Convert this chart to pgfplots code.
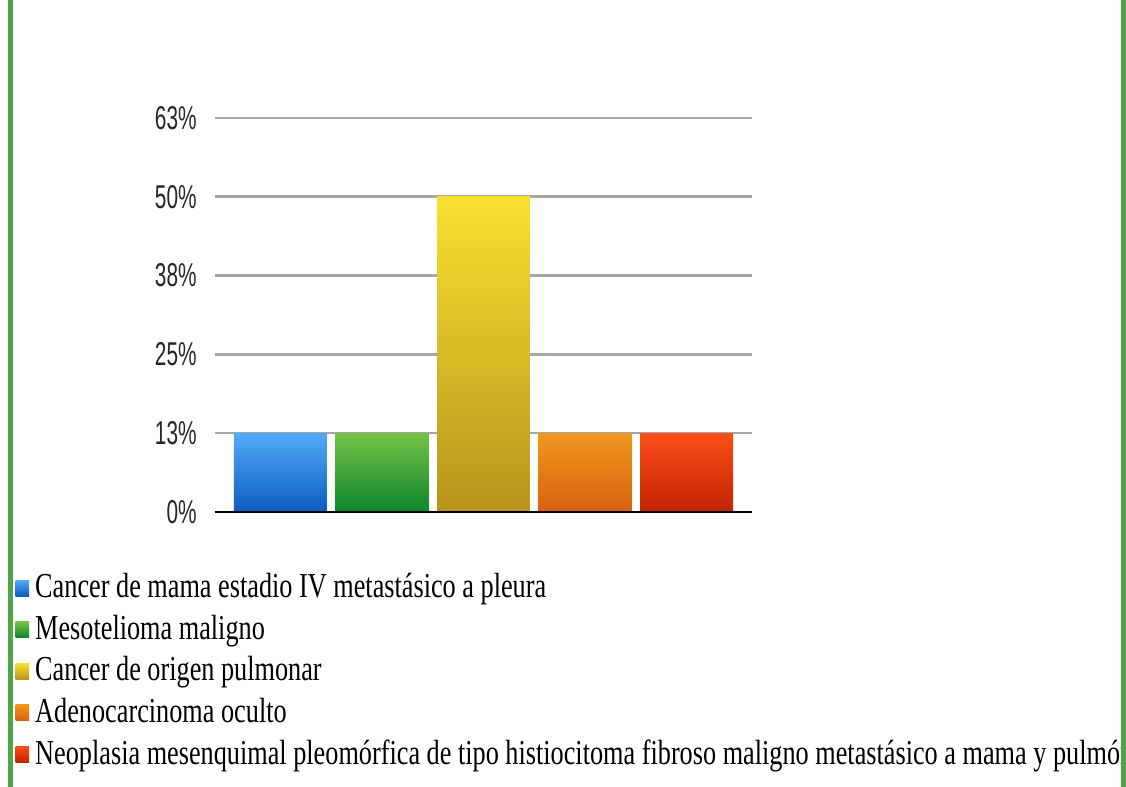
\documentclass[border=0pt]{standalone}
\usepackage{pgfplots}
\pgfplotsset{compat=1.18}
\usepackage{fontspec}
\setmainfont{Liberation Serif}
\newfontfamily\legfont{Liberation Serif}[FakeStretch=0.75]
\newfontfamily\tickfont{Liberation Sans}[FakeStretch=0.63]

\definecolor{framegreen}{HTML}{4EA647}
\definecolor{gridgray}{HTML}{A6A6A6}

\begin{document}
\begin{tikzpicture}
\useasboundingbox (0,0) rectangle (563pt,393.5pt);
\begin{scope}
\clip (0,0) rectangle (560.5pt,393.5pt);
\begin{axis}[
  at={(107.5pt,137.5pt)}, anchor=south west,
  scale only axis, width=268.5pt, height=197pt,
  xmin=-0.645, xmax=4.645,
  ymin=0, ymax=62.5,
  axis line style={draw=none},
  xtick=\empty,
  ytick={0,12.5,25,37.5,50,62.5},
  yticklabels={0\%,13\%,25\%,38\%,50\%,63\%},
  major tick length=0pt,
  yticklabel style={font=\tickfont\fontsize{16.5}{16.5}\selectfont, text=black!85,
    inner sep=0pt, anchor=east, xshift=-9pt},
  ymajorgrids,
  grid style={gridgray, line width=1.3pt},
  clip=false,
  legend cell align=left,
  legend style={draw=none, fill=none, inner sep=0pt,
    at={(axis description cs:-0.372,-0.158)}, anchor=north west,
    font=\legfont\fontsize{17.5}{17.5}\selectfont,
    nodes={inner sep=0pt, text height=11.5pt, text depth=3.5pt},
    row sep=5.8pt, column sep=3pt},
  legend image code/.code={\path[#1] (0pt,-3.2pt) rectangle (6.8pt,4.8pt);},
]
\addplot[ybar, bar shift=0pt, bar width=0.916, draw=none,
  top color={rgb,255:red,85;green,170;blue,248}, bottom color={rgb,255:red,11;green,92;blue,190}]
  coordinates {(0,12.5)};
\addlegendentry{Cancer de mama estadio IV metastásico a pleura}
\addplot[ybar, bar shift=0pt, bar width=0.916, draw=none,
  top color={rgb,255:red,118;green,194;blue,69}, bottom color={rgb,255:red,12;green,133;blue,46}]
  coordinates {(1,12.5)};
\addlegendentry{Mesotelioma maligno}
\addplot[ybar, bar shift=0pt, bar width=0.916, draw=none,
  top color={rgb,255:red,249;green,224;blue,48}, bottom color={rgb,255:red,184;green,148;blue,28}]
  coordinates {(2,50)};
\addlegendentry{Cancer de origen pulmonar}
\addplot[ybar, bar shift=0pt, bar width=0.916, draw=none,
  top color={rgb,255:red,240;green,152;blue,30}, bottom color={rgb,255:red,216;green,96;blue,16}]
  coordinates {(3,12.5)};
\addlegendentry{Adenocarcinoma oculto}
\addplot[ybar, bar shift=0pt, bar width=0.916, draw=none,
  top color={rgb,255:red,250;green,78;blue,24}, bottom color={rgb,255:red,194;green,34;blue,0}]
  coordinates {(4,12.5)};
\addlegendentry{Neoplasia mesenquimal pleomórfica de tipo histiocitoma fibroso maligno metastásico a mama y pulmón}
% baseline
\draw[black, line width=1.4pt] (axis cs:-0.645,0) -- (axis cs:4.645,0);
\end{axis}
\end{scope}
% side frame lines
\fill[framegreen] (4pt,0) rectangle (6.5pt,393.5pt);
\fill[framegreen] (560.5pt,0) rectangle (563pt,393.5pt);
\end{tikzpicture}
\end{document}
